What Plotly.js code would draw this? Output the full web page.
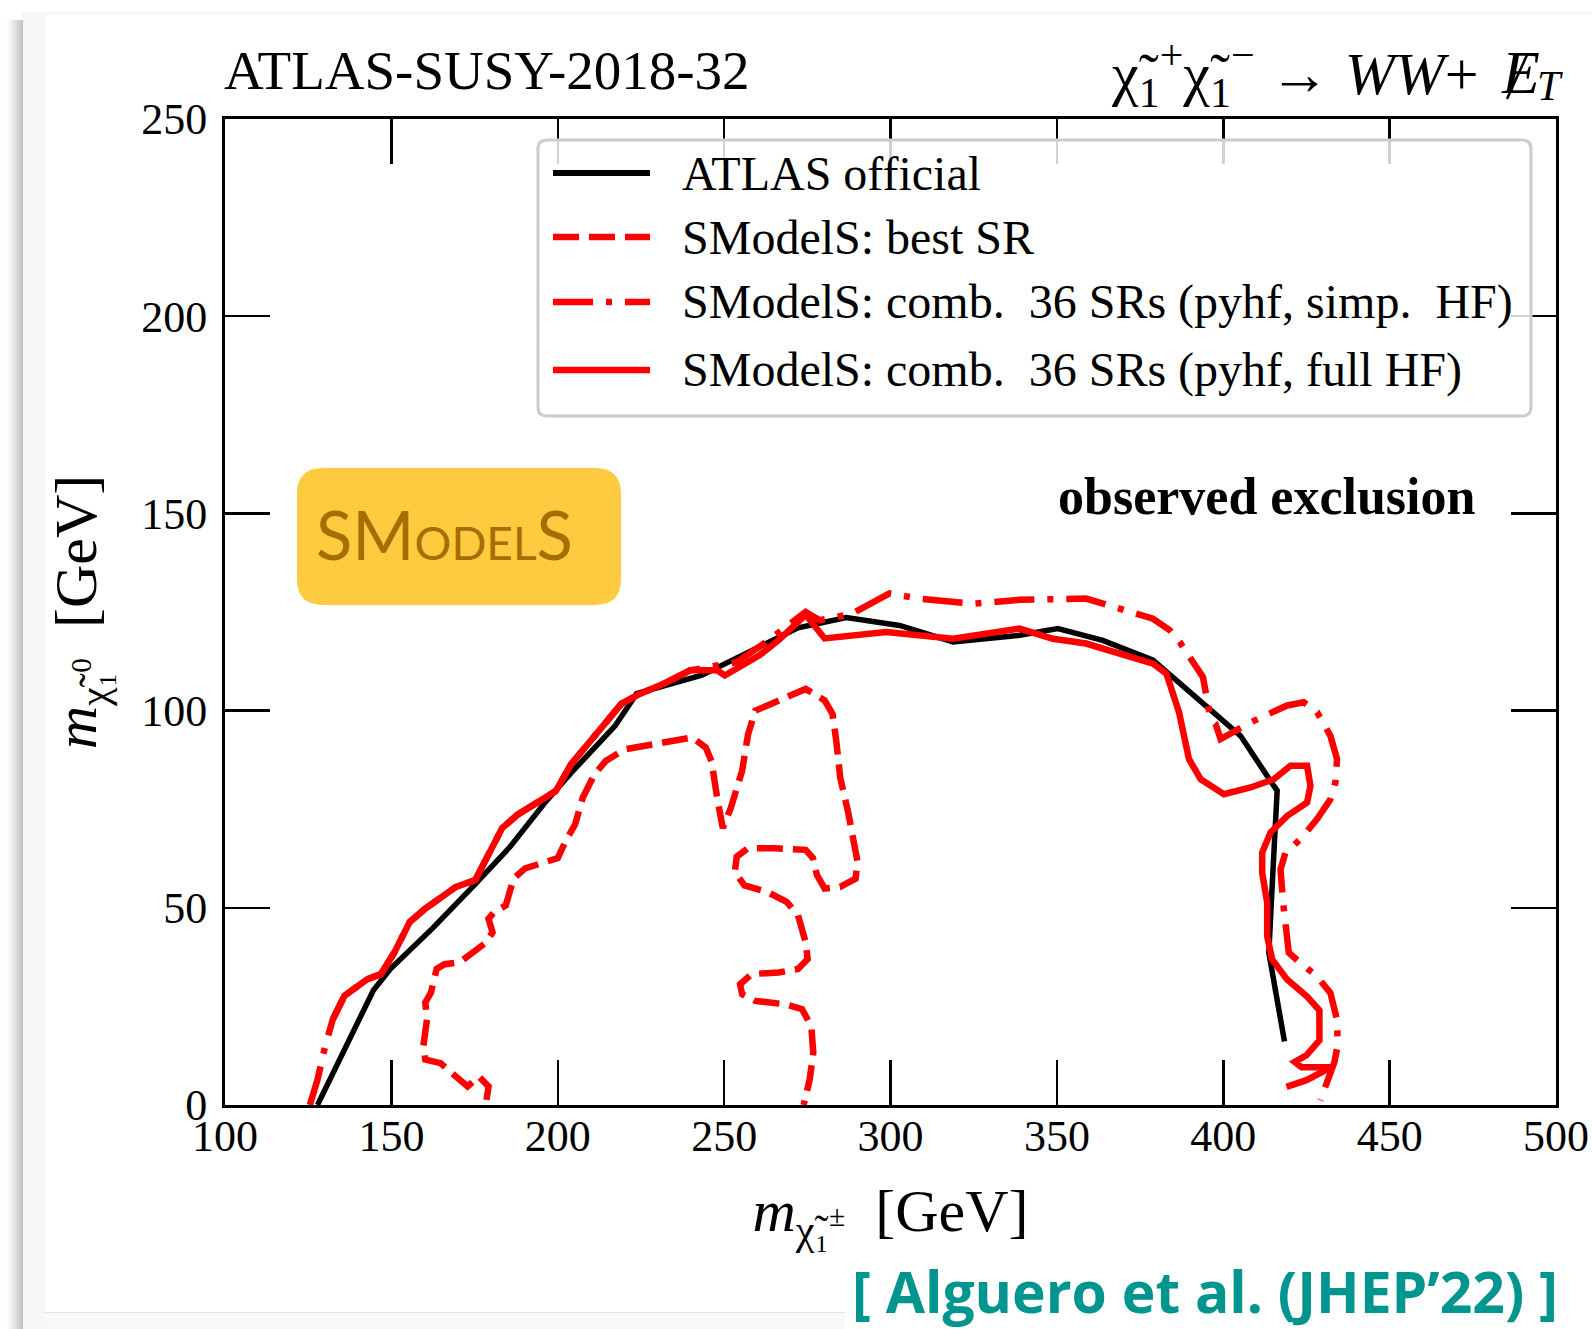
<!DOCTYPE html>
<html><head><meta charset="utf-8">
<script src="https://cdn.plot.ly/plotly-3.0.1.min.js"></script>
<style>
body{margin:0;background:#fff;}
#wrap{position:relative;width:1592px;height:1329px;overflow:hidden;background:#fff;}
#chart{position:absolute;left:0;top:0;width:1592px;height:1329px;}
.bg{position:absolute;}
</style></head>
<body><div id="wrap">
<div class="bg" style="left:22px;top:12px;width:1570px;height:1317px;background:#f6f6f6"></div>
<div class="bg" style="left:45px;top:15px;width:1547px;height:1314px;background:#fff"></div>
<div class="bg" style="left:45px;top:1312px;width:800px;height:17px;background:#f8f8f8;border-top:1px solid #e4e4e4"></div>
<div class="bg" style="left:7px;top:20px;width:16px;height:1309px;background:linear-gradient(to right, rgba(0,0,0,0), rgba(0,0,0,0.24))"></div>
<div id="chart"></div>
</div>
<script>
// ---- data ----
const atlasX = [127.8,144.6,149.8,162.5,175.2,185.6,196,204,217.3,223.7,243.3,254.8,272.2,286.7,302.7,318.8,338.8,350.3,363.8,378.9,385.9,396.2,405.2,415.2,416.2,414.7,413.7,418.4];
const atlasY = [0,29.1,34.6,44.9,56.0,65.4,76.5,84.2,96.2,104.3,109,113.7,121,123.6,121.6,117.4,119.1,120.8,117.8,112.8,107.7,100,93.6,80.9,79.7,55.5,38.6,16.1];

const fullX = [132.4,135.9,142.8,146.9,150.9,155.5,160.2,169.4,175.2,178.6,183.3,187.9,194.8,199.4,204.0,212.1,219.1,224.8,231.8,239.8,247.9,250.2,260.6,266.4,274.5,280.2,298.7,318.8,338.8,348.8,358.8,378.9,382.9,386.7,389.7,393.2,400.2,408.2,415.2,420.2,425.2,426.2,425.2,419.2,414.2,411.7,411.7,413.2,413.2,414.7,419.2,425.2,428.9,428.9,425,421.5,423.5,432.5,425,419];
const fullY = [21.7,27.7,31.9,33.2,38.7,46.4,49.8,55.3,57.0,62.6,70.2,73.6,77.0,79.6,86.4,94.9,101.7,104.3,106.8,110.2,110.2,108.9,114.0,117.9,124.3,118.3,119.9,118.2,120.8,118.2,117.0,111.9,109.4,99.6,87.7,82.6,78.8,80.5,82.6,86.0,86.0,80.9,76.7,73.3,69.1,64.0,58.9,51.3,42.8,36.9,31.8,27.5,24,16.4,12.6,10.9,9.6,9.6,6.3,4.6];

const simpX = [125.5,127.8,130.1,132.4,135.9,142.8,146.9,150.9,155.5,160.2,169.4,175.2,178.6,183.3,187.9,194.8,199.4,204.0,212.1,219.1,224.8,231.8,239.8,246,253.7,262,271,274.5,278.7,288.3,299.7,308.7,324.8,338.8,358.8,378.9,383.9,386.9,393.9,396.2,397.7,399.2,408.2,419.2,424.2,428.2,432.2,434.2,433.7,432.2,428.2,423.2,418.7,417.2,418,418.7,419.7,423.2,428.2,432.2,434.2,434.4,433.4,429.2];
const simpY = [0,6.4,14.9,21.7,27.7,31.9,33.2,38.7,46.4,49.8,55.3,57.0,62.6,70.2,73.6,77.0,79.6,86.4,94.9,101.7,104.3,106.8,110.2,111,112.3,117,123,125,122.9,124.5,129.7,128.4,127.1,128.1,128.4,123.3,120.4,117.4,108.5,97.9,96.6,92.8,97,101.3,102.1,99.6,93.6,87.7,81.8,77.5,72.5,67.4,64,59.7,51.3,45.3,38.6,36,32.6,28.4,21.6,15.1,10.9,1.2];

const bestX = [178.6,179.2,176.3,172.9,168.2,164.8,160.2,159.6,160.7,160.2,161.9,163.6,166,170.6,178.6,180.4,179.2,180.9,184.4,185.6,186.7,190.2,196,200,202.3,205.2,207.5,211,214.4,220.2,231.8,240.4,244.5,246.2,247.9,249.6,252,255.4,257.2,259.4,264.1,274.5,280.2,282.6,283.7,284.9,287.2,289,290.1,289.5,284.9,280.2,277.9,276.7,274.5,265.2,257.2,253.8,253.2,256.1,263,268.8,272.2,274.5,275.1,272.2,266.4,258.3,254.8,255.4,259.4,268.7,273.4,276.2,276.8,275.7,273.9];
const bestY = [1.3,4.7,7.2,4.7,8.1,10.6,11.5,14.9,21.7,26,28.5,34.5,35.7,36.2,41.3,43.8,47.2,48.9,50.6,54,57.4,60,61.3,62.6,66.8,71.1,77.9,83.8,87.2,90.2,91.9,93.2,90.6,87.2,77.9,70.2,75.3,84.7,94,100,101.7,105.5,102.6,99.1,92.3,83,74.5,67.7,61.7,57.4,55.3,54.9,58.3,62.6,64.7,65.1,65.1,63,59.1,55.7,54,51.5,48.1,41.3,37,34.5,33.6,33.2,30.6,28.1,26.4,25.5,24.3,20,13.2,6.4,0];

const seriesNames = ['ATLAS official','SModelS: best SR','SModelS: comb.  36 SRs (pyhf, simp.  HF)','SModelS: comb.  36 SRs (pyhf, full HF)'];
const xTicks = [100,150,200,250,300,350,400,450,500];
const yTicks = [0,50,100,150,200,250];

// ---- layout helpers (pixel -> paper) ----
const L=225, R=1556, T=119, B=1105;
const px = v => (v-L)/(R-L);
const py = v => (B-v)/(B-T);
function roundRect(x0,y0,x1,y1,r){
  const P=(x,y)=>px(x).toFixed(5)+','+py(y).toFixed(5);
  return 'M'+P(x0+r,y0)+' L'+P(x1-r,y0)+' Q'+P(x1,y0)+' '+P(x1,y0+r)+
    ' L'+P(x1,y1-r)+' Q'+P(x1,y1)+' '+P(x1-r,y1)+' L'+P(x0+r,y1)+
    ' Q'+P(x0,y1)+' '+P(x0,y1-r)+' L'+P(x0,y0+r)+' Q'+P(x0,y0)+' '+P(x0+r,y0)+' Z';
}

const RED='#ff0000';
const DASH='26px,10px', DASHDOT='40px,13px,6px,13px';
const serif='Liberation Serif, Times New Roman, serif';

const traces = [
  {x:atlasX,y:atlasY,mode:'lines',name:seriesNames[0],line:{color:'#000',width:5.5}},
  {x:bestX,y:bestY,mode:'lines',name:seriesNames[1],line:{color:RED,width:6.5,dash:DASH}},
  {x:simpX,y:simpY,mode:'lines',name:seriesNames[2],line:{color:RED,width:6.5,dash:DASHDOT}},
  {x:fullX,y:fullY,mode:'lines',name:seriesNames[3],line:{color:RED,width:6.5}}
];

const legRows=[173,237,302,370];
const legStyles=[{color:'#000',width:6,dash:'solid'},{color:RED,width:6.5,dash:DASH},{color:RED,width:6.5,dash:DASHDOT},{color:RED,width:6.5,dash:'solid'}];

const shapes = [
  {type:'path',xref:'paper',yref:'paper',layer:'above',path:roundRect(538,140,1531,416,9),
   fillcolor:'rgba(255,255,255,0.82)',line:{color:'#cccccc',width:3}},
  {type:'path',xref:'paper',yref:'paper',layer:'above',path:roundRect(297,468,621,605,26),
   fillcolor:'#FDCA40',line:{width:0}},
  // slash of the missing-ET symbol
  {type:'line',xref:'paper',yref:'paper',layer:'above',x0:px(1507),y0:py(99),x1:px(1527),y1:py(55),
   line:{color:'#000',width:2.5}}
];
legRows.forEach((r,i)=>shapes.push({type:'line',xref:'paper',yref:'paper',layer:'above',
  x0:px(553),x1:px(650),y0:py(r),y1:py(r),line:legStyles[i]}));

const annotations = [
  {xref:'paper',yref:'paper',x:px(222),y:py(70),xanchor:'left',yanchor:'middle',showarrow:false,
   text:'ATLAS-SUSY-2018-32',font:{family:serif,size:55,color:'#000'}},
  {xref:'paper',yref:'paper',x:px(1480),y:py(74),xanchor:'right',yanchor:'middle',showarrow:false,
   text:'χ̃<sub>1</sub><sup>+</sup>χ̃<sub>1</sub><sup>−</sup> → <i>WW</i>+',
   font:{family:serif,size:60,color:'#000'}},
  {xref:'paper',yref:'paper',x:px(1499),y:py(72),xanchor:'left',yanchor:'middle',showarrow:false,
   text:'<i>E</i>',font:{family:serif,size:62,color:'#000'}},
  {xref:'paper',yref:'paper',x:px(1535),y:py(86),xanchor:'left',yanchor:'middle',showarrow:false,
   text:'<i>T</i>',font:{family:serif,size:42,color:'#000'}},
  {xref:'paper',yref:'paper',x:px(1478),y:py(496),xanchor:'right',yanchor:'middle',showarrow:false,
   text:'<b>observed exclusion</b>',font:{family:serif,size:52,color:'#000'}},
  {xref:'paper',yref:'paper',x:px(314),y:py(534),xanchor:'left',yanchor:'middle',showarrow:false,
   text:'SM<span style="font-size:46px">ODEL</span>S',font:{family:'Lato, Open Sans, sans-serif',size:67,color:'#A86C00'}},
  {xref:'paper',yref:'paper',x:px(1560),y:py(1291),xanchor:'right',yanchor:'middle',showarrow:false,
   text:'<b>[ Alguero et al. (JHEP’22) ]</b>',font:{family:'Open Sans, Lato, sans-serif',size:57,color:'#00968F'}}
];
seriesNames.forEach((n,i)=>annotations.push({xref:'paper',yref:'paper',x:px(680),y:py(legRows[i]),
  xanchor:'left',yanchor:'middle',showarrow:false,text:n,font:{family:serif,size:48,color:'#000'}}));

const axisCommon = {ticks:'inside',ticklen:45,tickwidth:2.5,tickcolor:'#000',showline:true,linewidth:3,
  linecolor:'#000',mirror:'ticks',showgrid:false,zeroline:false,
  tickfont:{family:serif,size:44,color:'#000'}};

const layout = {
  width:1592,height:1329,
  margin:{l:L,r:1592-R,t:T,b:1329-B,pad:0},
  paper_bgcolor:'rgba(0,0,0,0)',plot_bgcolor:'rgba(0,0,0,0)',
  showlegend:false,
  font:{family:serif,color:'#000'},
  xaxis:Object.assign({},axisCommon,{range:[100,500],tickmode:'array',tickvals:xTicks,ticktext:xTicks.map(String),
    ticklabelstandoff:-10,
    title:{text:'<i>m</i><sub>χ̃₁<sup>±</sup></sub>  [GeV]',font:{family:serif,size:60,color:'#000'},standoff:30}}),
  yaxis:Object.assign({},axisCommon,{range:[0,250],tickmode:'array',tickvals:yTicks,ticktext:yTicks.map(String),
    ticklabelstandoff:6,
    title:{text:'<i>m</i><sub>χ̃₁<sup>0</sup></sub>  [GeV]',font:{family:serif,size:60,color:'#000'},standoff:26}}),
  shapes:shapes,
  annotations:annotations
};

Plotly.newPlot('chart',traces,layout,{displayModeBar:false,staticPlot:true});
</script>
</body></html>
